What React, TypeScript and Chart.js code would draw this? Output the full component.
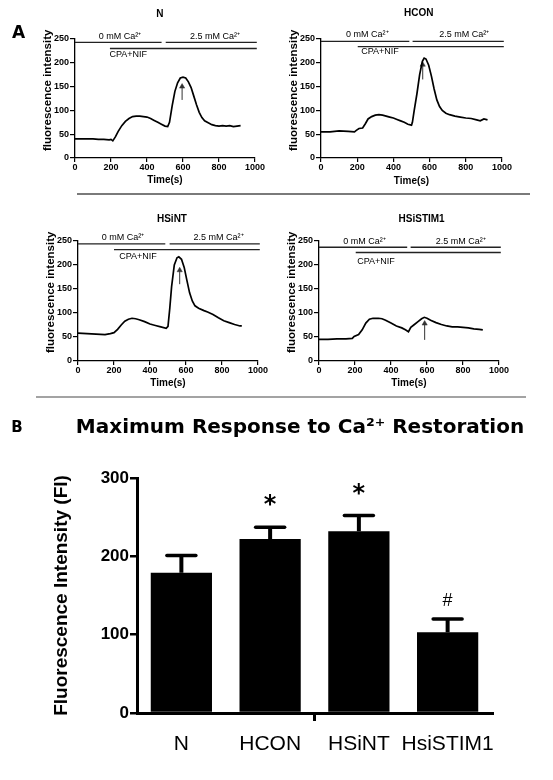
import React, { useEffect, useRef } from 'react';
import { Chart, registerables } from 'chart.js';

Chart.register(...registerables);

// ---------------- DATA ----------------
const panelNames = ['N', 'HCON', 'HSiNT', 'HSiSTIM1'];

const nTime = [0, 50, 100, 130, 160, 190, 200, 210, 225, 240, 260, 280, 300, 320, 340, 360, 380, 400, 420, 440, 460, 480, 500, 515, 525, 540, 555, 570, 585, 600, 615, 630, 645, 660, 675, 690, 705, 720, 740, 760, 780, 800, 820, 840, 860, 880, 900, 920];
const nFI = [40, 40, 40, 39, 39, 38, 39, 36, 45, 56, 68, 77, 83, 87, 88, 88, 87, 86, 83, 79, 75, 71, 67, 66, 75, 110, 140, 158, 168, 170, 168, 160, 148, 130, 112, 96, 85, 78, 74, 70, 68, 67, 68, 67, 68, 66, 67, 68];

const hconTime = [0, 50, 100, 150, 185, 195, 210, 230, 245, 260, 280, 300, 320, 340, 360, 380, 400, 420, 440, 460, 480, 500, 505, 515, 530, 545, 560, 570, 580, 595, 610, 625, 640, 655, 670, 690, 710, 740, 770, 800, 830, 860, 880, 900, 920];
const hconFI = [55, 55, 57, 56, 55, 58, 62, 63, 72, 82, 87, 90, 91, 90, 88, 86, 84, 81, 78, 75, 71, 69, 75, 100, 135, 175, 203, 210, 208, 195, 172, 145, 122, 108, 100, 94, 91, 88, 86, 84, 83, 80, 78, 82, 80];

const hsintTime = [0, 50, 100, 150, 180, 200, 220, 240, 260, 280, 300, 320, 340, 370, 400, 430, 460, 490, 500, 510, 520, 535, 550, 560, 575, 590, 605, 620, 635, 650, 670, 700, 720, 750, 780, 810, 840, 870, 900, 910];
const hsintFI = [58, 57, 56, 55, 57, 59, 66, 75, 83, 87, 89, 88, 86, 82, 77, 74, 71, 68, 72, 110, 155, 200, 215, 217, 212, 195, 168, 142, 125, 115, 110, 105, 102, 97, 90, 84, 80, 76, 73, 73];

const hsistimTime = [0, 50, 100, 150, 185, 195, 220, 240, 260, 280, 300, 330, 350, 370, 400, 430, 460, 480, 497, 510, 530, 550, 570, 585, 600, 620, 650, 680, 710, 740, 770, 800, 830, 860, 890, 910];
const hsistimFI = [45, 45, 46, 46, 47, 51, 55, 65, 79, 87, 89, 89, 88, 85, 79, 73, 69, 65, 61, 70, 76, 82, 88, 91, 89, 85, 80, 76, 73, 71, 71, 70, 69, 67, 66, 65];

// protocol bars: [start, end] in s, and [Ca-bar level, CPA-bar level]
const nZeroCaSpan = [0, 481];
const nHighCaSpan = [504, 1010];
const nCpaSpan = [194, 1010];
const nBarLevels = [243, 230];
const nArrow = [595, 122, 150]; // time, from, to

const hconZeroCaSpan = [0, 488];
const hconHighCaSpan = [506, 1010];
const hconCpaSpan = [203, 1010];
const hconBarLevels = [245, 234];
const hconArrow = [562, 165, 196];

const hsintZeroCaSpan = [0, 485];
const hsintHighCaSpan = [509, 1010];
const hsintCpaSpan = [200, 1010];
const hsintBarLevels = [244, 232];
const hsintArrow = [565, 160, 189];

const hsistimZeroCaSpan = [0, 490];
const hsistimHighCaSpan = [509, 1010];
const hsistimCpaSpan = [204, 1010];
const hsistimBarLevels = [237, 226];
const hsistimArrow = [587, 44, 78];

const zeroCaLabel = '0 mM Ca\u00B2\u207A';
const highCaLabel = '2.5 mM Ca\u00B2\u207A';
const cpaLabel = 'CPA+NIF';

const timeTicks = { min: 0, max: 1000, step: 200 };
const fiTicks = { min: 0, max: 250, step: 50 };

const barCategories = ['N', 'HCON', 'HSiNT', 'HsiSTIM1'];
const barMeans = [179, 222, 232, 103];
const barErrors = [22, 15, 20, 17];
const barMarks = ['', '*', '*', '#'];
const barTicks = { min: 0, max: 300, step: 100 };

// ---------------- STYLE / LAYOUT ----------------
const SANS = '"Liberation Sans", Arial, sans-serif';
const VERDANA = '"DejaVu Sans", Verdana, sans-serif';

const textMarksPlugin = {
  id: 'textMarks',
  afterDraw(chart: any, _args: any, opts: any) {
    const { ctx, chartArea, scales } = chart;
    for (const m of opts.items || []) {
      const px = m.x !== undefined ? scales.x.getPixelForValue(m.x) : chartArea.left + (m.dx || 0);
      const py = m.y !== undefined ? scales.y.getPixelForValue(m.y) : chartArea.top + (m.dy || 0);
      ctx.save();
      ctx.translate(px, py);
      if (m.rotation) ctx.rotate(m.rotation);
      ctx.font = m.font;
      ctx.fillStyle = m.color || '#000';
      ctx.textAlign = m.align || 'center';
      ctx.textBaseline = m.baseline || 'middle';
      ctx.fillText(m.text, 0, 0);
      ctx.restore();
    }
  },
};

const errorBarsPlugin = {
  id: 'errorBars',
  afterDatasetsDraw(chart: any, _args: any, opts: any) {
    const meta = chart.getDatasetMeta(0);
    const yScale = chart.scales.y;
    const ctx = chart.ctx;
    const values = chart.data.datasets[0].data;
    ctx.save();
    ctx.strokeStyle = '#000';
    ctx.fillStyle = '#000';
    meta.data.forEach((bar: any, i: number) => {
      const top = yScale.getPixelForValue(values[i] + opts.errors[i]);
      ctx.lineWidth = 4;
      ctx.lineCap = 'butt';
      ctx.beginPath();
      ctx.moveTo(bar.x, bar.y);
      ctx.lineTo(bar.x, top);
      ctx.stroke();
      ctx.lineWidth = 3.5;
      ctx.lineCap = 'round';
      ctx.beginPath();
      ctx.moveTo(bar.x - 14.5, top);
      ctx.lineTo(bar.x + 14.5, top);
      ctx.stroke();
      const mark = opts.marks[i];
      if (mark) {
        const st = opts.markStyles[mark];
        ctx.font = st.font;
        ctx.textAlign = 'center';
        ctx.textBaseline = 'alphabetic';
        ctx.fillText(mark, bar.x, top - st.offset);
      }
    });
    ctx.restore();
  },
};

type Panel = {
  name: string;
  time: number[];
  fi: number[];
  zeroCa: number[];
  highCa: number[];
  cpa: number[];
  levels: number[];
  arrow: number[];
  labelPos: number[][]; // zeroCa, highCa, cpa, title  (data coords)
  box: { left: number; top: number; width: number; height: number; plotLeft: number; plotRight: number; plotTop: number; plotBottom: number; timeY: number };
  extra?: any[];
};

const panels: Panel[] = [
  {
    name: panelNames[0], time: nTime, fi: nFI, zeroCa: nZeroCaSpan, highCa: nHighCaSpan, cpa: nCpaSpan, levels: nBarLevels, arrow: nArrow,
    labelPos: [[250, 256], [778, 256], [296, 218], [472, 302]],
    box: { left: 0, top: 0, width: 276, height: 195, plotLeft: 75, plotRight: 255, plotTop: 39, plotBottom: 158, timeY: 180.5 },
    extra: [{ text: 'A', dx: -56.5, dy: -5, font: `bold 17px ${VERDANA}` }],
  },
  {
    name: panelNames[1], time: hconTime, fi: hconFI, zeroCa: hconZeroCaSpan, highCa: hconHighCaSpan, cpa: hconCpaSpan, levels: hconBarLevels, arrow: hconArrow,
    labelPos: [[256, 259], [792, 259], [326, 223], [540, 304]],
    box: { left: 276, top: 0, width: 277, height: 195, plotLeft: 45, plotRight: 226, plotTop: 39, plotBottom: 158, timeY: 181 },
  },
  {
    name: panelNames[2], time: hsintTime, fi: hsintFI, zeroCa: hsintZeroCaSpan, highCa: hsintHighCaSpan, cpa: hsintCpaSpan, levels: hsintBarLevels, arrow: hsintArrow,
    labelPos: [[250, 258], [781, 258], [333, 217], [522, 296]],
    box: { left: 0, top: 200, width: 276, height: 195, plotLeft: 78, plotRight: 258, plotTop: 41, plotBottom: 161, timeY: 183 },
  },
  {
    name: panelNames[3], time: hsistimTime, fi: hsistimFI, zeroCa: hsistimZeroCaSpan, highCa: hsistimHighCaSpan, cpa: hsistimCpaSpan, levels: hsistimBarLevels, arrow: hsistimArrow,
    labelPos: [[253, 248], [787, 248], [317, 208], [570, 296]],
    box: { left: 276, top: 200, width: 277, height: 195, plotLeft: 43, plotRight: 223, plotTop: 41, plotBottom: 161, timeY: 183 },
  },
];

function segment(span: number[], level: number) {
  return [{ x: span[0], y: level }, { x: span[1], y: level }];
}

function lineConfig(p: Panel): any {
  const b = p.box;
  const yAxisW = 35;
  const bottomPad = b.height - b.timeY - 6;
  const xAxisH = b.height - bottomPad - b.plotBottom;
  const protoStyle = { borderColor: '#222', borderWidth: 1.3, pointRadius: 0, clip: false, fill: false };
  return {
    type: 'line',
    data: {
      datasets: [
        {
          data: p.time.map((t, i) => ({ x: t, y: p.fi[i] })),
          borderColor: '#000', borderWidth: 1.7, pointRadius: 0, tension: 0, fill: false,
        },
        { data: segment(p.zeroCa, p.levels[0]), ...protoStyle },
        { data: segment(p.highCa, p.levels[0]), ...protoStyle },
        { data: segment(p.cpa, p.levels[1]), ...protoStyle },
        {
          data: [{ x: p.arrow[0], y: p.arrow[1] }, { x: p.arrow[0], y: p.arrow[2] }],
          borderColor: '#333', borderWidth: 1, pointStyle: 'triangle', pointRadius: [0, 3],
          pointBackgroundColor: '#333', pointBorderColor: '#333', pointBorderWidth: 0.5, fill: false,
        },
      ],
    },
    options: {
      animation: false,
      responsive: false,
      maintainAspectRatio: false,
      events: [],
      layout: { padding: { left: b.plotLeft - yAxisW, top: b.plotTop, right: b.width - b.plotRight, bottom: bottomPad } },
      scales: {
        x: {
          type: 'linear', min: timeTicks.min, max: timeTicks.max,
          afterFit: (s: any) => { s.height = xAxisH; },
          ticks: {
            stepSize: timeTicks.step, color: '#000', padding: 0, maxRotation: 0,
            callback: (v: any) => String(v),
            font: { family: SANS, size: 9, weight: 'bold' },
          },
          grid: { drawOnChartArea: false, drawTicks: true, tickLength: 4, color: '#000', lineWidth: 1.2 },
          border: { display: true, color: '#000', width: 1.3 },
          title: { display: true, text: 'Time(s)', color: '#000', padding: 0, font: { family: SANS, size: 10, weight: 'bold' } },
        },
        y: {
          type: 'linear', min: fiTicks.min, max: fiTicks.max,
          afterFit: (s: any) => { s.width = yAxisW; },
          ticks: { stepSize: fiTicks.step, color: '#000', padding: 1, callback: (v: any) => String(v), font: { family: SANS, size: 9, weight: 'bold' } },
          grid: { drawOnChartArea: false, drawTicks: true, tickLength: 5, color: '#000', lineWidth: 1.2 },
          border: { display: true, color: '#000', width: 1.3 },
        },
      },
      plugins: {
        legend: { display: false },
        tooltip: { enabled: false },
        title: { display: false },
        textMarks: {
          items: [
            { text: p.name, x: p.labelPos[3][0], y: p.labelPos[3][1], font: `bold 10px ${SANS}` },
            { text: 'fluorescence intensity', dx: -27, dy: 112, align: 'left', rotation: -Math.PI / 2, font: `bold 11.5px ${SANS}` },
            { text: zeroCaLabel, x: p.labelPos[0][0], y: p.labelPos[0][1], font: `9px ${SANS}` },
            { text: highCaLabel, x: p.labelPos[1][0], y: p.labelPos[1][1], font: `9px ${SANS}` },
            { text: cpaLabel, x: p.labelPos[2][0], y: p.labelPos[2][1], font: `9px ${SANS}` },
            ...(p.extra || []),
          ],
        },
      },
    },
    plugins: [textMarksPlugin],
  };
}

function barConfig(): any {
  return {
    type: 'bar',
    data: {
      labels: barCategories,
      datasets: [
        { data: barMeans, backgroundColor: '#000', borderWidth: 0, barPercentage: 0.69, categoryPercentage: 1 },
      ],
    },
    options: {
      animation: false,
      responsive: false,
      maintainAspectRatio: false,
      events: [],
      layout: { padding: { left: 50, top: 78, right: 61, bottom: 0 } },
      scales: {
        x: {
          afterFit: (s: any) => { s.height = 67; },
          ticks: { color: '#000', padding: 11, autoSkip: false, maxRotation: 0, minRotation: 0, font: { family: SANS, size: 21 } },
          grid: {
            offset: true, drawOnChartArea: false, drawTicks: true, tickLength: 8, lineWidth: 3,
            color: (c: any) => (c.index === 2 ? '#000' : 'rgba(0,0,0,0)'),
          },
          border: { display: true, color: '#000', width: 3 },
        },
        y: {
          min: barTicks.min, max: barTicks.max,
          afterFit: (s: any) => { s.width = 87; },
          ticks: { stepSize: barTicks.step, color: '#000', padding: 1, font: { family: SANS, size: 17, weight: 'bold' } },
          grid: { drawOnChartArea: false, drawTicks: true, tickLength: 7, lineWidth: 2.5, color: '#000' },
          border: { display: true, color: '#000', width: 3 },
          title: { display: true, text: 'Fluorescence Intensity (FI)', color: '#000', padding: 0, font: { family: SANS, size: 19, weight: 'bold' } },
        },
      },
      plugins: {
        legend: { display: false },
        tooltip: { enabled: false },
        title: { display: false },
        errorBars: {
          errors: barErrors,
          marks: barMarks,
          markStyles: {
            '*': { font: `bold 24px ${VERDANA}`, offset: 15 },
            '#': { font: `18px ${SANS}`, offset: 13 },
          },
        },
        textMarks: {
          items: [
            { text: 'Maximum Response to Ca\u00B2\u207A Restoration', dx: 163, dy: -50, font: `bold 20px ${VERDANA}` },
            { text: 'B', dx: -120, dy: -50, font: `bold 15px ${VERDANA}` },
          ],
        },
      },
    },
    plugins: [errorBarsPlugin, textMarksPlugin],
  };
}

function ChartCanvas({ make, left, top, width, height }: any) {
  const ref = useRef<HTMLCanvasElement>(null);
  useEffect(() => {
    const chart = new Chart(ref.current as HTMLCanvasElement, make());
    return () => chart.destroy();
  }, []);
  return (
    <canvas
      ref={ref}
      width={width}
      height={height}
      style={{ position: 'absolute', left, top, width, height }}
    />
  );
}

export default function App() {
  return (
    <div style={{ position: 'absolute', left: 0, top: 0, width: 553, height: 780, background: '#fff', overflow: 'hidden' }}>
      {panels.map((p) => (
        <ChartCanvas key={p.name} make={() => lineConfig(p)} left={p.box.left} top={p.box.top} width={p.box.width} height={p.box.height} />
      ))}
      <div style={{ position: 'absolute', left: 77, top: 193, width: 453, height: 1.5, background: '#7a7a7a' }} />
      <div style={{ position: 'absolute', left: 36, top: 396, width: 490, height: 2, background: '#a3a3a3' }} />
      <ChartCanvas make={barConfig} left={0} top={400} width={553} height={380} />
    </div>
  );
}
